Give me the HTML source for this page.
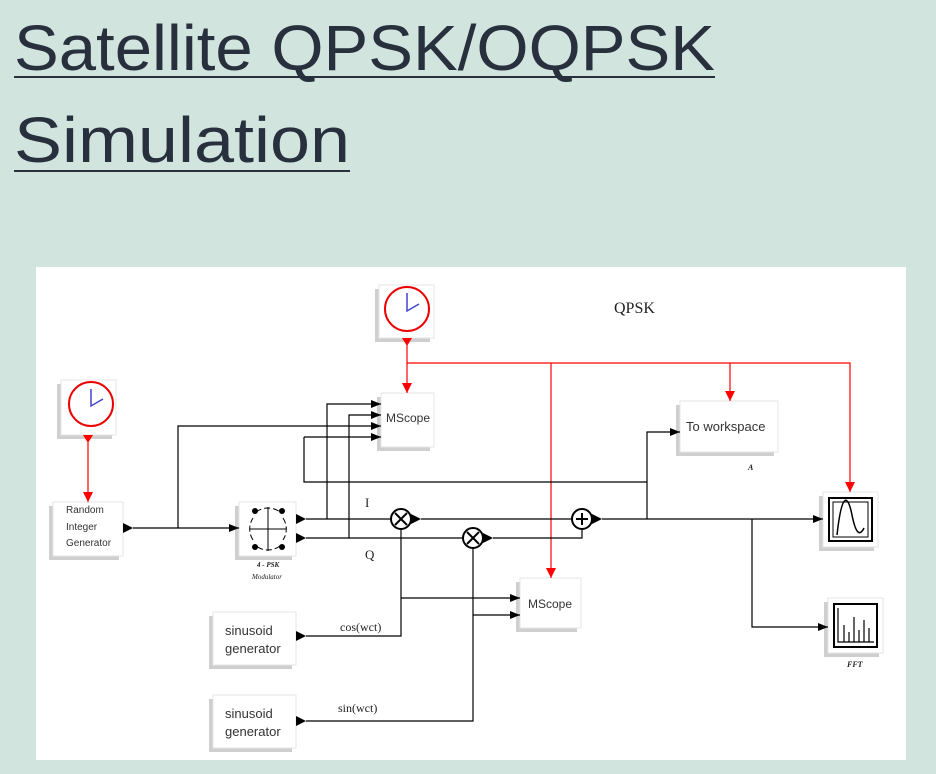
<!DOCTYPE html>
<html><head><meta charset="utf-8"><style>
html,body{margin:0;padding:0;background:#d1e4de;width:936px;height:774px;overflow:hidden}
</style></head><body>
<svg width="936" height="774" xmlns="http://www.w3.org/2000/svg" style="position:absolute;left:0;top:0">
<defs>
<marker id="ab" viewBox="0 0 10 10" refX="10" refY="5" markerWidth="10" markerHeight="10" markerUnits="userSpaceOnUse" orient="auto"><path d="M0,1 L10,5 L0,9z" fill="#000"/></marker>
<marker id="ar" viewBox="0 0 10 10" refX="10" refY="5" markerWidth="10" markerHeight="10" markerUnits="userSpaceOnUse" orient="auto"><path d="M0,0 L10,5 L0,10z" fill="#f00"/></marker>
</defs>
<g font-family="'Liberation Sans',sans-serif" fill="#27303c">
<text x="14" y="70" font-size="64" textLength="701" lengthAdjust="spacingAndGlyphs">Satellite QPSK/OQPSK</text>
<text x="14" y="162" font-size="64" textLength="336" lengthAdjust="spacingAndGlyphs">Simulation</text>
</g>
<rect x="14" y="76" width="701" height="2" fill="#27303c"/>
<rect x="14" y="170" width="336" height="2" fill="#27303c"/>
<rect x="36" y="267" width="870" height="493" fill="#fff"/>

<g fill="#cfcfcf">
<rect x="57" y="384" width="55" height="55"/>
<rect x="49" y="506" width="70" height="54"/>
<rect x="235" y="506" width="57" height="54"/>
<rect x="375" y="289" width="55" height="53"/>
<rect x="377" y="397" width="53" height="54"/>
<rect x="516" y="582" width="61" height="50"/>
<rect x="209" y="616" width="83" height="53"/>
<rect x="209" y="699" width="83" height="53"/>
<rect x="676" y="405" width="98" height="51"/>
<rect x="819" y="496" width="55" height="55"/>
<rect x="824" y="602" width="55" height="55"/>
</g>
<g fill="#fff" stroke="#e6e6e6" stroke-width="1">
<rect x="61" y="380" width="55" height="55"/>
<rect x="53" y="502" width="70" height="54"/>
<rect x="239" y="502" width="57" height="54"/>
<rect x="379" y="285" width="55" height="53"/>
<rect x="381" y="393" width="53" height="54"/>
<rect x="520" y="578" width="61" height="50"/>
<rect x="213" y="612" width="83" height="53"/>
<rect x="213" y="695" width="83" height="53"/>
<rect x="680" y="401" width="98" height="51"/>
<rect x="823" y="492" width="55" height="55"/>
<rect x="828" y="598" width="55" height="55"/>
</g>

<circle cx="91" cy="404" r="22" fill="none" stroke="#e00" stroke-width="2"/>
<path d="M91,389 V406 L103,399" fill="none" stroke="#44c" stroke-width="1.5"/>
<circle cx="407" cy="309" r="22" fill="none" stroke="#e00" stroke-width="2"/>
<path d="M407,293 V311 L419,304" fill="none" stroke="#44c" stroke-width="1.5"/>

<g stroke="#f00" stroke-width="1.2" fill="none">
<path d="M88,442 V502" marker-end="url(#ar)"/>
<path d="M407,345 V393" marker-end="url(#ar)"/>
<path d="M407,363 H850 V492" marker-end="url(#ar)"/>
<path d="M551,363 V578" marker-end="url(#ar)"/>
<path d="M730,363 V401" marker-end="url(#ar)"/>
</g>
<g fill="#f00">
<path d="M83,435 H93 L88,443z"/>
<path d="M402,338 H412 L407,346z"/>
</g>

<g stroke="#000" stroke-width="1.2" fill="none">
<path d="M133,528 H239" marker-end="url(#ab)"/>
<path d="M178,528 V426 H381" marker-end="url(#ab)"/>
<path d="M327,519 V404 H381" marker-end="url(#ab)"/>
<path d="M349,538 V415 H381" marker-end="url(#ab)"/>
<path d="M304,437 H381" marker-end="url(#ab)"/>
<path d="M304,437 V482 H647"/>
<path d="M306,519 H391"/>
<path d="M421,519 H572"/>
<path d="M306,538 H463"/>
<path d="M493,538 H582 V529"/>
<path d="M602,519 H823" marker-end="url(#ab)"/>
<path d="M647,519 V432 H680" marker-end="url(#ab)"/>
<path d="M752,519 V627 H828" marker-end="url(#ab)"/>
<path d="M401,529 V636 H306"/>
<path d="M401,598 H520" marker-end="url(#ab)"/>
<path d="M473,548 V721 H306"/>
<path d="M473,615 H520" marker-end="url(#ab)"/>
</g>
<g fill="#000">
<path d="M123,523 L133,528 L123,533z"/>
<path d="M296,514 L306,519 L296,524z"/>
<path d="M296,533 L306,538 L296,543z"/>
<path d="M411,514 L421,519 L411,524z"/>
<path d="M483,533 L493,538 L483,543z"/>
<path d="M592,514 L602,519 L592,524z"/>
<path d="M296,631 L306,636 L296,641z"/>
<path d="M296,716 L306,721 L296,726z"/>
</g>
<g stroke="#000" stroke-width="2" fill="#fff">
<circle cx="401" cy="519" r="10"/>
<circle cx="473" cy="538" r="10"/>
<circle cx="582" cy="519" r="10"/>
</g>
<g stroke="#000" stroke-width="2">
<path d="M395,513 L407,525 M407,513 L395,525"/>
<path d="M467,532 L479,544 M479,532 L467,544"/>
<path d="M576,519 H588 M582,513 V525"/>
</g>
<g stroke="#000" stroke-width="1" fill="none">
<path d="M250,529 H286 M268,507 V551"/>
<path d="M256,512 A20,20 0 0 1 280,512 M283,518 A20,20 0 0 1 283,540 M280,546 A20,20 0 0 1 256,546 M253,540 A20,20 0 0 1 253,518" stroke-dasharray="6,3"/>
</g>
<g fill="#000"><circle cx="255" cy="511" r="3"/><circle cx="282" cy="511" r="3"/><circle cx="255" cy="547" r="3"/><circle cx="282" cy="547" r="3"/></g>
<rect x="829" y="498" width="43" height="43" fill="none" stroke="#000" stroke-width="2"/>
<rect x="833" y="502" width="35" height="35" fill="none" stroke="#000" stroke-width="1"/>
<path d="M837,535 C842,490 848,495 852,515 C856,535 860,536 864,528" fill="none" stroke="#000" stroke-width="1.5"/>
<rect x="834" y="604" width="43" height="43" fill="none" stroke="#000" stroke-width="2"/>
<path d="M838,608 V642 H874 M844,642 V625 M849,642 V632 M854,642 V617 M859,642 V630 M864,642 V620 M869,642 V628" fill="none" stroke="#000" stroke-width="1.2"/>

<g font-family="'Liberation Sans',sans-serif" fill="#333">
<text x="66" y="513" font-size="10">Random</text>
<text x="66" y="530" font-size="10">Integer</text>
<text x="66" y="546" font-size="10">Generator</text>
<text x="386" y="422" font-size="12">MScope</text>
<text x="528" y="608" font-size="12">MScope</text>
<text x="686" y="431" font-size="13">To workspace</text>
<text x="225" y="635" font-size="13">sinusoid</text>
<text x="225" y="653" font-size="13">generator</text>
<text x="225" y="718" font-size="13">sinusoid</text>
<text x="225" y="736" font-size="13">generator</text>
</g>
<g font-family="'Liberation Serif',serif" fill="#222">
<text x="614" y="313" font-size="16">QPSK</text>
<text x="365" y="507" font-size="13">I</text>
<text x="365" y="559" font-size="13">Q</text>
<text x="340" y="631" font-size="12">cos(wct)</text>
<text x="338" y="712" font-size="12">sin(wct)</text>
<text x="257" y="567" font-size="7" font-style="italic" font-weight="bold">4 - PSK</text>
<text x="252" y="579" font-size="7" font-style="italic">Modulator</text>
<text x="748" y="470" font-size="8" font-style="italic" font-weight="bold">A</text>
<text x="847" y="667" font-size="8" font-style="italic" font-weight="bold">FFT</text>
</g>
</svg>
</body></html>
